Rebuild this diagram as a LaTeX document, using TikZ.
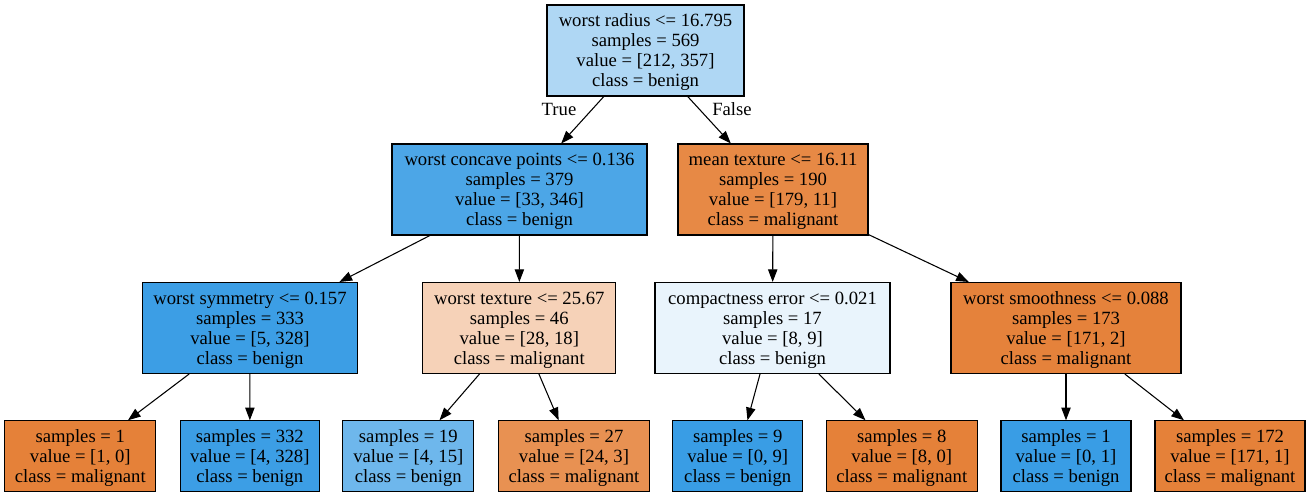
\documentclass[tikz,border=0pt]{standalone}
\usepackage{fontspec}
\setmainfont{Liberation Serif}
\usetikzlibrary{arrows.meta}
\definecolor{cRoot}{RGB}{175,215,244}
\definecolor{cNa}{RGB}{76,166,231}
\definecolor{cNb}{RGB}{231,137,69}
\definecolor{cNc}{RGB}{60,158,229}
\definecolor{cNd}{RGB}{246,210,184}
\definecolor{cNe}{RGB}{233,244,252}
\definecolor{cNf}{RGB}{229,130,59}
\definecolor{cOr}{RGB}{229,129,57}
\definecolor{cBl}{RGB}{57,157,229}
\definecolor{cBm}{RGB}{110,183,236}
\definecolor{cOl}{RGB}{232,145,82}
\begin{document}
\begin{tikzpicture}[x=0.75pt,y=-0.75pt,
  box/.style={draw=black, line width=0.8pt, rectangle, align=center, inner sep=0pt,
    font=\fontsize{14pt}{15pt}\selectfont, text depth=0pt},
  inner/.style={box, minimum height=68.25pt},
  leaf/.style={box, minimum height=53.25pt},
  edge/.style={draw=black, line width=0.8pt, -{Triangle[length=9.5pt,width=7pt]}},
  lab/.style={font=\fontsize{14pt}{15pt}\selectfont, inner sep=0pt}]
\useasboundingbox (0,0) rectangle (1311,497);
% level 0
\node[inner, fill=cRoot, minimum width=147.75pt] (root) at (645.5,50.5)
  {worst radius <= 16.795\\samples = 569\\value = [212, 357]\\class = benign};
% level 1
\node[inner, fill=cNa, minimum width=191.25pt] (n1) at (519.5,189.5)
  {worst concave points <= 0.136\\samples = 379\\value = [33, 346]\\class = benign};
\node[inner, fill=cNb, minimum width=142.5pt] (n2) at (773,189.5)
  {mean texture <= 16.11\\samples = 190\\value = [179, 11]\\class = malignant};
% level 2
\node[inner, fill=cNc, minimum width=161.25pt] (n3) at (250,328)
  {worst symmetry <= 0.157\\samples = 333\\value = [5, 328]\\class = benign};
\node[inner, fill=cNd, minimum width=144.75pt] (n4) at (519.3,328)
  {worst texture <= 25.67\\samples = 46\\value = [28, 18]\\class = malignant};
\node[inner, fill=cNe, minimum width=176.25pt] (n5) at (772.5,328)
  {compactness error <= 0.021\\samples = 17\\value = [8, 9]\\class = benign};
\node[inner, fill=cNf, minimum width=172.5pt] (n6) at (1066,328)
  {worst smoothness <= 0.088\\samples = 173\\value = [171, 2]\\class = malignant};
% leaves
\node[leaf, fill=cOr, minimum width=113.25pt] (l1) at (80.3,456.3)
  {samples = 1\\value = [1, 0]\\class = malignant};
\node[leaf, fill=cNc, minimum width=104.25pt] (l2) at (249.8,456.3)
  {samples = 332\\value = [4, 328]\\class = benign};
\node[leaf, fill=cBm, minimum width=98.25pt] (l3) at (408.3,456.3)
  {samples = 19\\value = [4, 15]\\class = benign};
\node[leaf, fill=cOl, minimum width=113.25pt] (l4) at (574,456.3)
  {samples = 27\\value = [24, 3]\\class = malignant};
\node[leaf, fill=cBl, minimum width=97.5pt] (l5) at (737.7,456.3)
  {samples = 9\\value = [0, 9]\\class = benign};
\node[leaf, fill=cOr, minimum width=113.25pt] (l6) at (901.8,456.3)
  {samples = 8\\value = [8, 0]\\class = malignant};
\node[leaf, fill=cBl, minimum width=97.5pt] (l7) at (1066,456.3)
  {samples = 1\\value = [0, 1]\\class = benign};
\node[leaf, fill=cOr, minimum width=112.5pt] (l8) at (1230,456.3)
  {samples = 172\\value = [171, 1]\\class = malignant};
% edges
\draw[edge] (root) -- (n1);
\draw[edge] (root) -- (n2);
\draw[edge] (n1) -- (n3);
\draw[edge] (n1) -- (n4);
\draw[edge] (n2) -- (n5);
\draw[edge] (n2) -- (n6);
\draw[edge] (n3) -- (l1);
\draw[edge] (n3) -- (l2);
\draw[edge] (n4) -- (l3);
\draw[edge] (n4) -- (l4);
\draw[edge] (n5) -- (l5);
\draw[edge] (n5) -- (l6);
\draw[edge] (n6) -- (l7);
\draw[edge] (n6) -- (l8);
% edge labels
\node[lab] (tlab) at (559,109) {True};
\node[lab] (flab) at (732,109) {False};
\end{tikzpicture}
\end{document}
